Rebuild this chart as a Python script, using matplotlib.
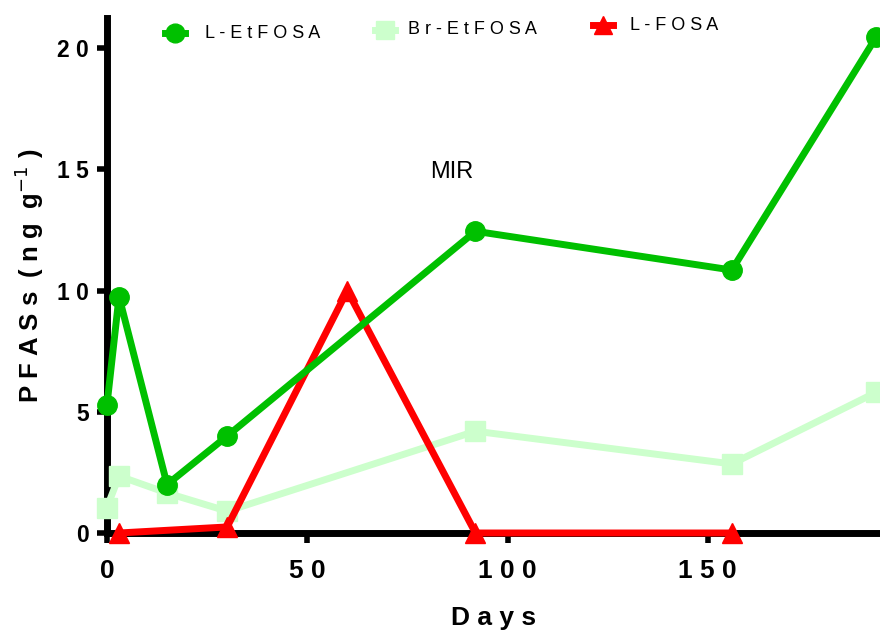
import matplotlib.pyplot as plt
from matplotlib.lines import Line2D

plt.rcParams['font.family'] = ['Liberation Sans', 'DejaVu Sans']

# sampling days and concentrations (ng/g)
days_etfosa = [0, 3, 15, 30, 92, 156, 192]
l_etfosa = [5.3, 9.75, 2.0, 4.0, 12.45, 10.85, 20.45]
br_etfosa = [1.05, 2.35, 1.65, 0.9, 4.2, 2.85, 5.8]

days_fosa = [3, 30, 60, 92, 156]
l_fosa = [0.0, 0.25, 10.0, 0.0, 0.0]

x_ticks = [0, 50, 100, 150]
y_ticks = [0, 5, 10, 15, 20]

GREEN = "#00C000"
LIGHT = "#CCFFCC"
RED = "#FF0000"

W, H = 880, 634


def spaced(s):
    return " ".join(s)


fig = plt.figure(figsize=(8.8, 6.34), dpi=100)
ax = fig.add_axes([107 / W, 1 - 533 / H, 1 - 107 / W, (533 - 18) / H])

ax.plot(days_etfosa, br_etfosa, color=LIGHT, lw=5, marker="s", ms=14,
        clip_on=False, zorder=3)
ax.plot(days_fosa, l_fosa, color=RED, lw=5, marker="^", ms=15,
        clip_on=False, zorder=4)
ax.plot(days_etfosa, l_etfosa, color=GREEN, lw=5, marker="o", ms=14,
        clip_on=False, zorder=5)

ax.set_xlim(0, 193)
ax.set_ylim(0, 21.25)

for side in ["top", "right"]:
    ax.spines[side].set_visible(False)
for side in ["left", "bottom"]:
    ax.spines[side].set_linewidth(5)
    ax.spines[side].set_zorder(2)

ax.set_xticks(x_ticks)
ax.set_xticklabels([spaced(str(t)) for t in x_ticks])
ax.set_yticks(y_ticks)
ax.set_yticklabels([spaced(str(t)) for t in y_ticks])
ax.tick_params(axis="both", direction="out", length=7, width=4)
ax.tick_params(axis="y", labelsize=16.5, pad=6)
ax.tick_params(axis="x", labelsize=19, pad=12)
for lab in ax.get_xticklabels() + ax.get_yticklabels():
    lab.set_fontweight("bold")

ax.set_xlabel(spaced("Days"), fontsize=19, fontweight="bold", labelpad=16)
ax.set_ylabel(r"P F A S s  ( n g  g$^{-1}$ )", fontsize=18.5,
              fontweight="bold", labelpad=8)

fig.text(452 / W, 1 - 172 / H, "MIR", fontsize=17, ha="center", va="center")

# legend entries along the top
entries = [
    ("L-EtFOSA", GREEN, "o", 175, 33, 205),
    ("Br-EtFOSA", LIGHT, "s", 385, 30, 408),
    ("L-FOSA", RED, "^", 603, 25, 630),
]
for label, col, mk, mx, my, tx in entries:
    fig.add_artist(Line2D([(mx - 10) / W, (mx + 10) / W],
                          [1 - my / H, 1 - my / H], color=col, lw=5,
                          transform=fig.transFigure))
    fig.add_artist(Line2D([mx / W], [1 - my / H], color=col, lw=0,
                          marker=mk, ms=13.5, transform=fig.transFigure))
    fig.text(tx / W, 1 - my / H, spaced(label), fontsize=13, ha="left",
             va="center")

fig.savefig("out.png", dpi=100)
